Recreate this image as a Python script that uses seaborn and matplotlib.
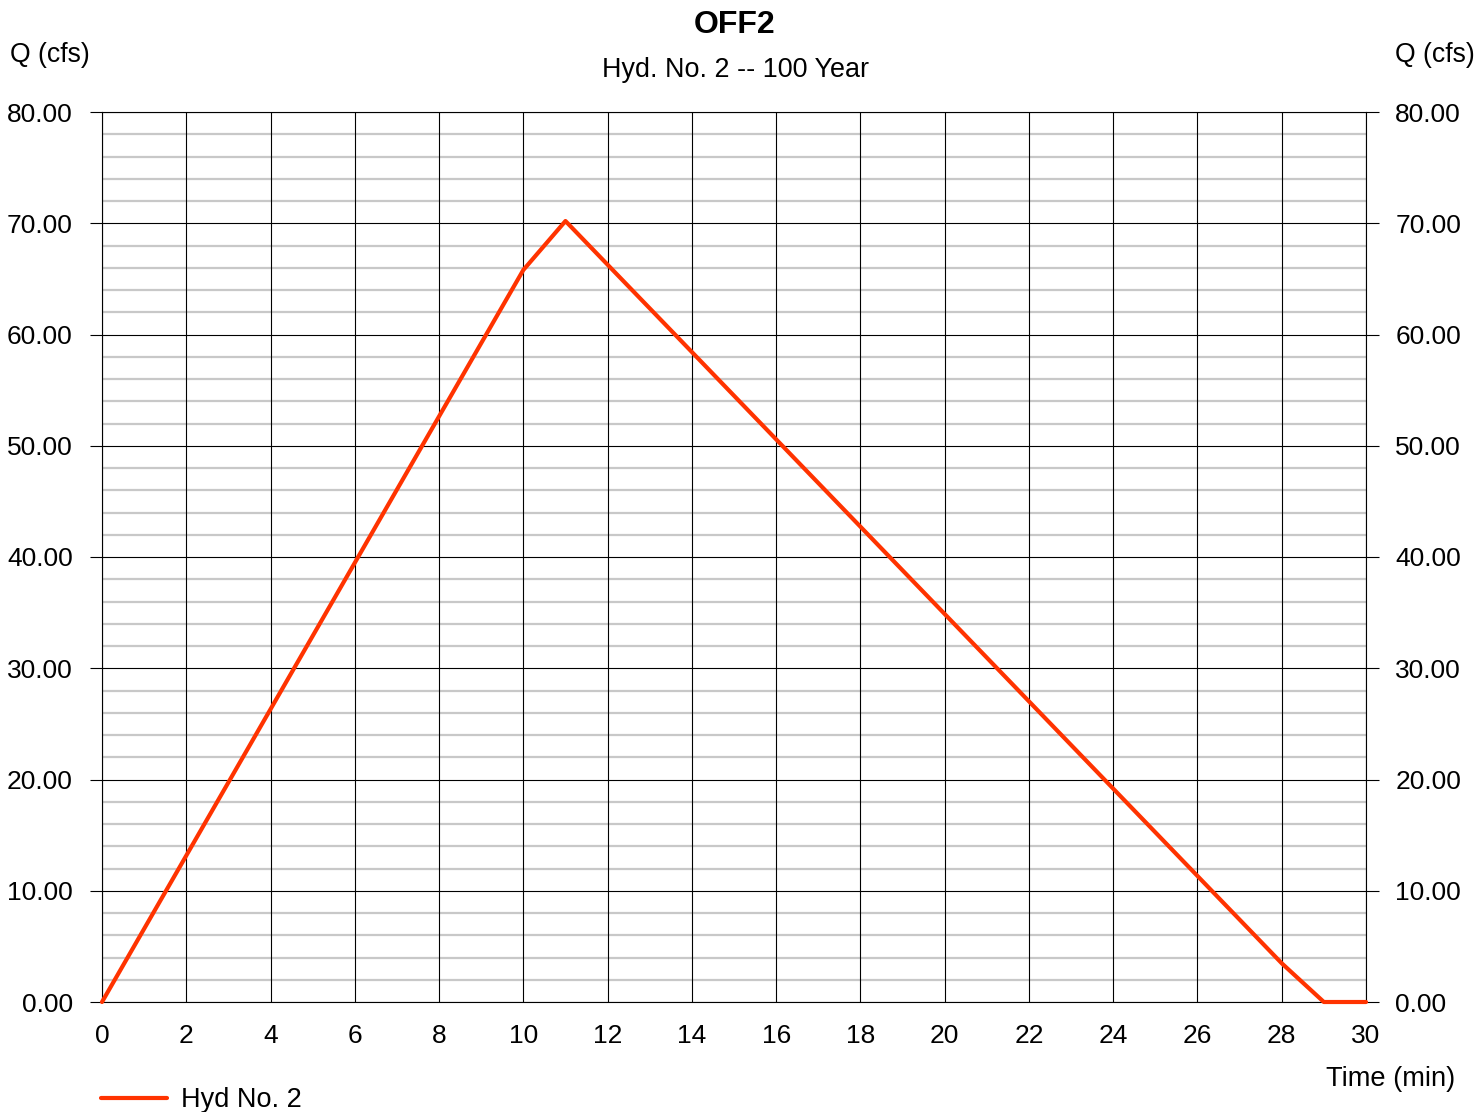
import numpy as np
import matplotlib
matplotlib.use("Agg")
import matplotlib.pyplot as plt
import seaborn as sns

# Hydrograph values
time_min = [0, 10, 11, 28, 29, 30]
flow_cfs = [0.0, 65.8, 70.2, 3.48, 0.0, 0.0]
series_label = "Hyd No. 2"

y_ticks = [0, 10, 20, 30, 40, 50, 60, 70, 80]
x_ticks = list(range(0, 31, 2))

sns.set_theme(style="white")
plt.rcParams['font.family'] = ['Liberation Sans', 'DejaVu Sans']
plt.rcParams['text.color'] = 'black'

W, H = 1478, 1112
fig = plt.figure(figsize=(W / 100, H / 100), dpi=100)
ax = fig.add_axes([102 / W, 1 - 1002 / H, (1366 - 102) / W, (1002 - 112) / H])

# grid: light grey every 2 cfs, black every 10 cfs and every 2 min
for yv in np.arange(2, 80, 2):
    if yv % 10:
        ax.axhline(yv, color='#c8c8c8', lw=1.6, zorder=1)
for yv in y_ticks:
    ax.axhline(yv, color='black', lw=0.8, zorder=1.5)
for xv in x_ticks:
    ax.axvline(xv, color='black', lw=0.8, zorder=1.5)

sns.lineplot(x=time_min, y=flow_cfs, ax=ax, color='#ff3300', lw=3.0,
             label=series_label, zorder=3, clip_on=False)
ax.get_legend().remove()

ax.set_xlim(0, 30)
ax.set_ylim(0, 80)
ax.set_xticks(x_ticks)
ax.set_yticks(y_ticks)
ax.set_yticklabels([f"{v:.2f}" for v in y_ticks])
ax.tick_params(axis='y', left=True, right=True, labelleft=True, labelright=True,
               length=9, width=0.8, color='black', pad=12, labelsize=19,
               labelcolor='black', direction='out')
ax.tick_params(axis='x', bottom=False, length=0, pad=15.5, labelsize=19,
               labelcolor='black')
for s in ax.spines.values():
    s.set_color('black')
    s.set_linewidth(0.8)
ax.set_xlabel('')
ax.set_ylabel('')

fig.text(735 / W, 1 - 25 / H, "OFF2", ha='center', va='center',
         fontsize=23, fontweight='bold', color='black')
fig.text(735 / W, 1 - 70 / H, "Hyd. No. 2 -- 100 Year", ha='center',
         va='center', fontsize=19.4, color='black')
fig.text(10 / W, 1 - 54.5 / H, "Q (cfs)", ha='left', va='center',
         fontsize=19.2, color='black')
fig.text(1475 / W, 1 - 54.5 / H, "Q (cfs)", ha='right', va='center',
         fontsize=19.2, color='black')
fig.text(1455 / W, 1 - 1079 / H, "Time (min)", ha='right', va='center',
         fontsize=19.6, color='black')

handles, labels = ax.get_legend_handles_labels()
leg = fig.legend(handles, labels, loc='center left',
                 bbox_to_anchor=(101 / W, 1 - 1100 / H), frameon=False,
                 borderpad=0, borderaxespad=0, handlelength=2.45,
                 handletextpad=0.5, fontsize=19.5)
for t in leg.get_texts():
    t.set_color('black')

fig.savefig("out.png", dpi=100)
